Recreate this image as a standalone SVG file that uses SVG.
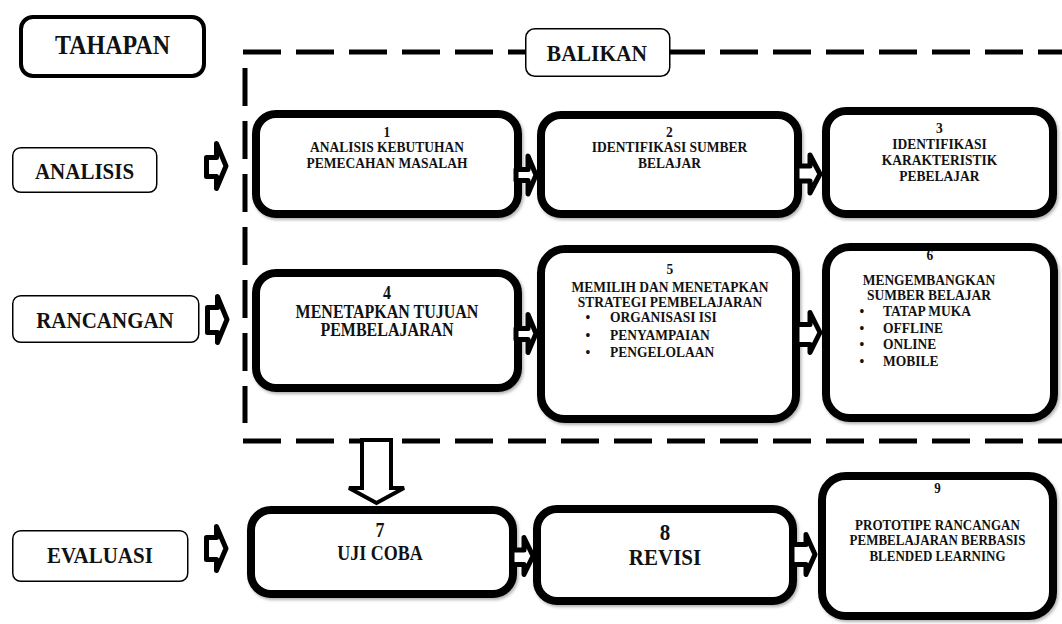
<svg xmlns="http://www.w3.org/2000/svg" width="1062" height="624" viewBox="0 0 1062 624">
<defs>
<filter id="sh" x="-10%" y="-10%" width="120%" height="130%">
<feDropShadow dx="1.5" dy="2" stdDeviation="1.5" flood-color="#000" flood-opacity="0.3"/>
</filter>
<style>
text{font-family:"Liberation Serif","Times New Roman",serif;font-weight:bold;fill:#111;text-anchor:middle;transform-box:fill-box;transform-origin:center;transform:scaleY(1.12)}
.lbl{fill:#fff;stroke:#000;stroke-width:1.5}
.box{fill:#fff;stroke:#000;stroke-width:8;filter:url(#sh)}
.dash{fill:none;stroke:#000;stroke-width:5;stroke-dasharray:38 15}
.blk{fill:#fff;stroke:#000;stroke-width:5;stroke-linejoin:round}
.s{font-size:13.5px}
.l{text-anchor:start}
</style>
</defs>
<rect width="1062" height="624" fill="#fff"/>

<g id="frame">
<line class="dash" x1="243" y1="52" x2="1062" y2="52"/>
<line class="dash" x1="245" y1="68" x2="245" y2="423"/>
<line class="dash" x1="243" y1="441" x2="1062" y2="441"/>
</g>

<g id="tahapan">
<rect x="21" y="17" width="183" height="59" rx="12" fill="#fff" stroke="#000" stroke-width="4"/>
<text x="112.5" y="53" font-size="24">TAHAPAN</text>
</g>
<g id="balikan">
<rect class="lbl" x="525.75" y="28.75" width="144" height="47.5" rx="9"/>
<text x="597" y="60" font-size="21.5">BALIKAN</text>
</g>
<g id="analisis">
<rect class="lbl" x="12.75" y="147.75" width="144" height="44.5" rx="8"/>
<text x="84.5" y="178" font-size="21">ANALISIS</text>
</g>
<g id="rancangan">
<rect class="lbl" x="12.75" y="295.75" width="186" height="46.5" rx="8"/>
<text x="105" y="327" font-size="21">RANCANGAN</text>
</g>
<g id="evaluasi">
<rect class="lbl" x="12.75" y="530.75" width="175" height="50.5" rx="8"/>
<text x="100" y="562" font-size="21">EVALUASI</text>
</g>

<g id="n1">
<rect class="box" x="256" y="114" width="262" height="100" rx="20"/>
<text class="s" x="387" y="136.5">1</text>
<text class="s" x="387" y="151.5">ANALISIS KEBUTUHAN</text>
<text class="s" x="387" y="167.5">PEMECAHAN MASALAH</text>
</g>
<g id="n2">
<rect class="box" x="541" y="115" width="257" height="99" rx="20"/>
<text class="s" x="669.5" y="136.5">2</text>
<text class="s" x="669.5" y="151.5">IDENTIFIKASI SUMBER</text>
<text class="s" x="669.5" y="167.5">BELAJAR</text>
</g>
<g id="n3">
<rect class="box" x="826" y="111" width="227" height="103" rx="20"/>
<text class="s" x="939.5" y="132.5">3</text>
<text class="s" x="939.5" y="148">IDENTIFIKASI</text>
<text class="s" x="939.5" y="164">KARAKTERISTIK</text>
<text class="s" x="939.5" y="180">PEBELAJAR</text>
</g>
<g id="n4">
<rect class="box" x="256" y="273" width="262" height="115" rx="20"/>
<text x="387" y="298.5" font-size="16">4</text>
<text x="387" y="317.5" font-size="16">MENETAPKAN TUJUAN</text>
<text x="387" y="335.5" font-size="16">PEMBELAJARAN</text>
</g>
<g id="n5">
<rect class="box" x="541" y="249" width="255" height="170" rx="24"/>
<text class="s" x="670" y="273.5">5</text>
<text class="s" x="670" y="291.5">MEMILIH DAN MENETAPKAN</text>
<text class="s" x="670" y="306.5">STRATEGI PEMBELAJARAN</text>
<text class="s" x="588" y="321.5">•</text>
<text class="s l" x="610" y="321.5">ORGANISASI ISI</text>
<text class="s" x="588" y="339.5">•</text>
<text class="s l" x="610" y="339.5">PENYAMPAIAN</text>
<text class="s" x="588" y="356.5">•</text>
<text class="s l" x="610" y="356.5">PENGELOLAAN</text>
</g>
<g id="n6">
<rect class="box" x="826" y="247" width="228" height="171" rx="24"/>
<text class="s" x="930" y="259.5">6</text>
<text class="s" x="929" y="284.5">MENGEMBANGKAN</text>
<text class="s" x="929" y="299.5">SUMBER BELAJAR</text>
<text class="s" x="862" y="315.5">•</text>
<text class="s l" x="883" y="315.5">TATAP MUKA</text>
<text class="s" x="862" y="332.5">•</text>
<text class="s l" x="883" y="332.5">OFFLINE</text>
<text class="s" x="862" y="348.5">•</text>
<text class="s l" x="883" y="348.5">ONLINE</text>
<text class="s" x="862" y="365.5">•</text>
<text class="s l" x="883" y="365.5">MOBILE</text>
</g>
<g id="n7">
<rect class="box" x="251" y="510" width="262" height="84" rx="20"/>
<text x="380" y="536" font-size="18">7</text>
<text x="380" y="559" font-size="18">UJI COBA</text>
</g>
<g id="n8">
<rect class="box" x="537" y="509" width="256" height="92" rx="20"/>
<text x="665" y="539" font-size="21">8</text>
<text x="665" y="564" font-size="21">REVISI</text>
</g>
<g id="n9">
<rect class="box" x="822" y="476" width="231" height="140" rx="24"/>
<text x="937.5" y="492.5" font-size="13">9</text>
<text x="937.5" y="529.5" font-size="13">PROTOTIPE RANCANGAN</text>
<text x="937.5" y="544.5" font-size="13">PEMBELAJARAN BERBASIS</text>
<text x="937.5" y="560.5" font-size="13">BLENDED LEARNING</text>
</g>

<g id="connectors">
<path class="blk" d="M206.5,157.5 H216.5 V143.5 L226,166 L216.5,188.5 V176.5 H206.5 Z"/>
<path class="blk" d="M207.5,307.5 H217.5 V296.5 L227,319.5 L217.5,342.5 V332.5 H207.5 Z"/>
<path class="blk" d="M206.5,537.5 H216.5 V526.5 L226,548.5 L216.5,570.5 V559.5 H206.5 Z"/>
<path class="blk" d="M516,169.5 H528 V156 L536,175 L528,194 V180.5 H516 Z"/>
<path class="blk" d="M797,166 H810 V155 L820,174 L810,193 V181 H797 Z"/>
<path class="blk" d="M516,328.5 H528 V314.5 L536,333.5 L528,352.5 V339.5 H516 Z"/>
<path class="blk" d="M797,324.5 H810 V312.5 L820,332.5 L810,352.5 V344.5 H797 Z"/>
<path class="blk" d="M512,550 H524 V537.5 L533,556 L524,574.5 V564.5 H512 Z"/>
<path class="blk" d="M792,544.5 H806 V534.5 L815,554.5 L806,574.5 V564.5 H792 Z"/>
<path fill="#fff" stroke="#000" stroke-width="4" stroke-linejoin="miter" d="M362,440 H391 V488 H404 L376.5,503 L349,488 H362 Z"/>
</g>
</svg>
